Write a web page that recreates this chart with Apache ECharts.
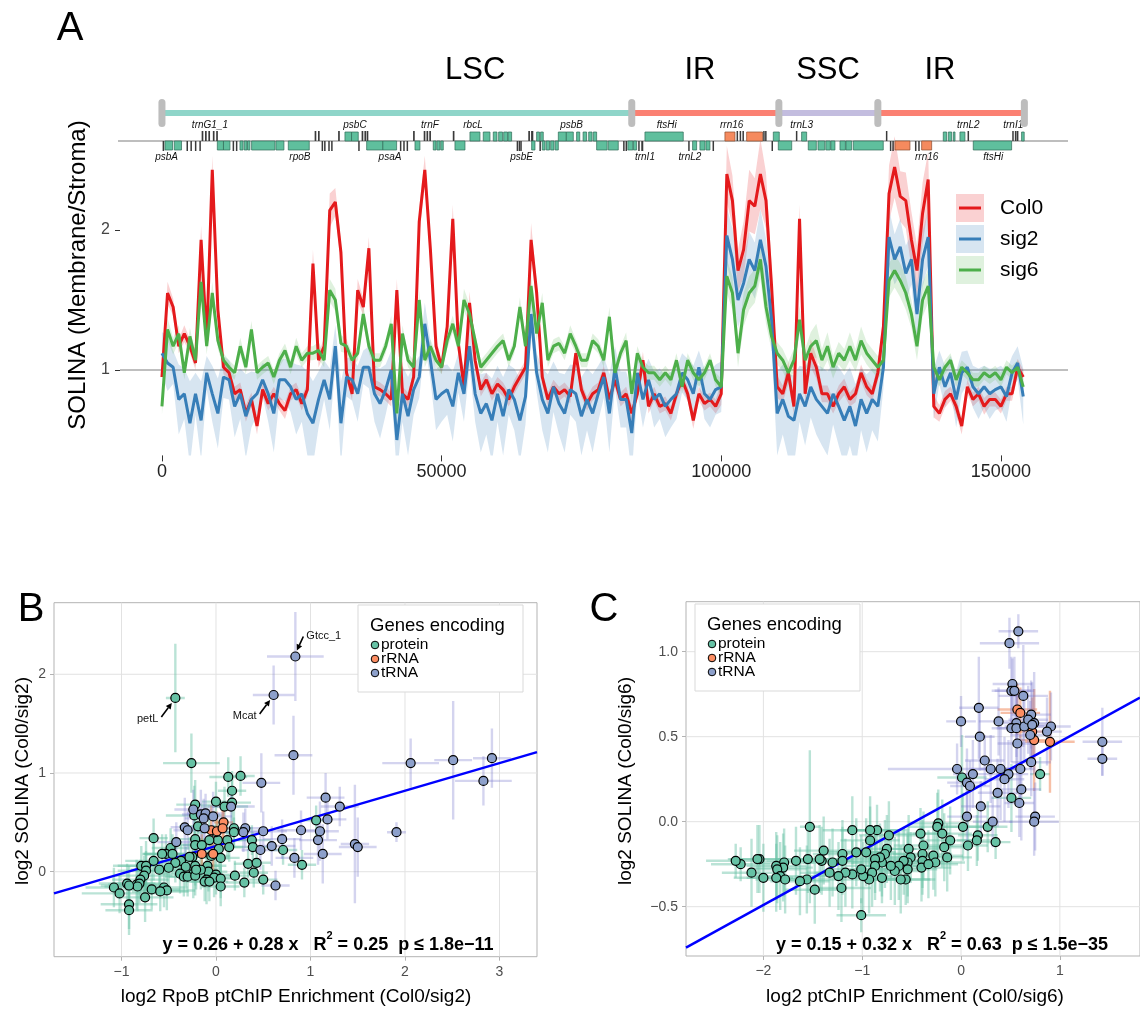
<!DOCTYPE html>
<html><head><meta charset="utf-8">
<script src="https://cdn.jsdelivr.net/npm/echarts@6/dist/echarts.min.js"></script>
<style>html,body{margin:0;padding:0;background:#fff}#c{width:1140px;height:1011px}</style>
</head><body><div id="c"></div>
<script>
// ---------------- DATA: panel A (SOLINA profile, 1 kb bins) ----------------
const binSizeBp = 1000;
const col0 = [
0.95,1.55,1.45,1.17,1.26,1.17,1.05,1.93,1.21,2.43,
1.43,1.02,0.98,0.83,0.86,0.69,0.79,0.60,0.86,0.76,
0.83,0.76,0.71,0.83,0.86,0.76,0.86,1.76,1.07,1.17,
2.14,2.20,1.84,0.98,0.83,1.57,1.45,1.87,0.88,0.86,
0.83,0.79,1.57,0.83,0.79,0.95,2.06,2.43,1.86,1.17,
1.02,1.31,2.08,1.19,0.88,1.48,1.07,0.86,0.93,0.83,
0.90,0.86,0.79,0.88,0.95,1.02,1.93,1.55,0.95,0.79,
0.88,0.83,0.86,0.81,1.12,0.86,0.76,0.83,0.86,0.98,
0.79,0.93,0.79,0.83,0.69,0.83,1.07,0.74,0.83,0.74,
0.76,0.69,0.83,0.93,0.83,0.64,0.83,0.76,0.79,0.74,
0.83,2.40,2.21,1.71,1.86,2.21,2.17,2.40,2.21,1.60,
0.88,0.83,0.98,0.74,2.08,0.83,1.12,1.02,0.83,0.83,
0.74,0.83,0.88,0.79,0.83,0.98,0.88,0.83,0.98,1.31,
2.26,2.45,2.24,2.21,1.93,1.71,2.12,2.36,0.74,0.69,
0.79,0.83,0.74,0.60,0.88,0.79,0.83,0.74,0.79,0.79,
0.74,0.83,0.83,1.02,0.95];
const sig2 = [
1.12,1.05,1.02,0.79,0.83,0.62,0.83,0.64,0.98,0.83,
0.69,0.95,0.93,0.74,0.83,0.67,0.79,0.83,0.93,0.83,
0.69,0.93,0.93,0.88,0.79,0.83,0.69,0.62,0.79,0.93,
0.79,1.17,0.62,0.95,0.93,0.83,1.02,1.02,0.83,0.76,
0.86,1.00,0.50,0.83,0.67,0.86,0.95,1.33,1.07,0.79,
0.83,0.86,0.74,0.98,0.83,1.17,0.83,0.69,0.76,0.64,
0.83,0.67,0.86,0.79,0.64,0.81,1.40,0.98,0.79,0.69,
0.88,0.76,0.69,0.86,0.83,0.67,0.79,0.69,0.83,0.95,
0.69,1.02,0.79,0.79,0.55,0.98,0.79,0.93,0.79,0.83,
0.74,0.79,0.83,0.98,0.93,0.83,1.02,0.83,0.79,0.86,
0.88,1.96,1.79,1.50,1.62,1.79,1.71,1.93,1.74,1.36,
0.69,0.79,0.67,0.64,0.83,0.74,0.88,0.79,0.74,0.69,
0.83,0.74,0.64,0.74,0.60,0.79,0.69,0.79,0.74,1.02,
1.95,1.79,1.88,1.69,1.79,1.40,1.79,1.95,0.83,1.02,
0.88,0.98,0.79,0.98,1.02,0.88,0.83,0.88,0.83,0.86,
0.88,0.81,0.98,1.05,0.81];
const sig6 = [
0.74,1.29,1.17,1.26,0.98,1.24,1.07,1.63,1.17,1.55,
1.21,1.07,1.02,0.98,1.17,1.02,1.29,0.98,1.02,1.05,
0.95,1.07,1.14,1.02,1.17,1.07,1.12,1.12,1.14,1.07,
1.57,1.50,1.19,1.17,1.07,1.12,1.40,1.17,1.07,1.07,
1.17,1.33,0.69,1.26,1.07,1.02,1.50,1.07,1.17,1.07,
1.02,1.21,1.33,1.17,1.50,1.40,1.21,1.02,1.07,1.12,
1.17,1.21,1.07,1.17,1.45,1.17,1.60,1.26,1.48,1.07,
1.17,1.19,1.12,1.26,1.17,1.07,1.07,1.21,1.17,1.07,
1.38,0.98,1.12,1.21,0.83,1.12,1.02,0.98,0.98,0.93,
0.98,0.93,1.07,0.88,1.07,0.98,0.93,0.98,1.07,0.93,
0.88,1.67,1.55,1.12,1.43,1.55,1.60,1.79,1.45,1.24,
1.12,1.07,0.98,1.07,1.36,1.07,1.17,1.21,1.07,1.17,
1.02,1.12,1.07,1.17,1.07,1.21,1.12,1.07,1.02,1.07,
1.64,1.71,1.64,1.55,1.40,1.17,1.50,1.60,1.02,0.93,
1.02,1.07,0.93,1.02,0.98,0.93,0.93,0.98,0.95,0.98,
0.93,1.02,0.98,1.02,0.88];
const col0Sd = [
0.05,0.08,0.06,0.05,0.06,0.05,0.05,0.10,0.06,0.10,
0.06,0.05,0.04,0.05,0.05,0.06,0.05,0.06,0.05,0.05,
0.05,0.05,0.06,0.05,0.05,0.05,0.05,0.10,0.05,0.06,
0.12,0.10,0.08,0.05,0.05,0.08,0.06,0.08,0.05,0.05,
0.05,0.05,0.08,0.05,0.05,0.05,0.10,0.10,0.10,0.06,
0.05,0.06,0.10,0.06,0.05,0.08,0.05,0.05,0.05,0.05,
0.05,0.05,0.05,0.05,0.05,0.05,0.12,0.08,0.05,0.05,
0.05,0.05,0.05,0.05,0.06,0.05,0.05,0.05,0.05,0.05,
0.05,0.05,0.05,0.05,0.06,0.05,0.06,0.05,0.05,0.05,
0.05,0.05,0.05,0.05,0.05,0.06,0.05,0.05,0.05,0.05,
0.08,0.20,0.18,0.15,0.20,0.22,0.20,0.25,0.20,0.15,
0.08,0.06,0.08,0.06,0.10,0.06,0.10,0.08,0.06,0.06,
0.05,0.06,0.06,0.05,0.06,0.06,0.06,0.05,0.06,0.10,
0.20,0.22,0.18,0.20,0.20,0.18,0.22,0.20,0.08,0.06,
0.06,0.05,0.06,0.06,0.05,0.05,0.05,0.06,0.05,0.05,
0.05,0.05,0.05,0.06,0.05];
const sig2Sd = [
0.15,0.20,0.12,0.25,0.18,0.30,0.15,0.28,0.12,0.20,
0.25,0.15,0.14,0.22,0.18,0.30,0.20,0.15,0.12,0.20,
0.28,0.14,0.15,0.18,0.25,0.20,0.30,0.30,0.20,0.14,
0.22,0.15,0.30,0.14,0.15,0.20,0.12,0.15,0.20,0.25,
0.18,0.14,0.25,0.20,0.28,0.18,0.15,0.15,0.14,0.22,
0.20,0.18,0.25,0.14,0.20,0.15,0.20,0.28,0.22,0.30,
0.20,0.28,0.18,0.22,0.30,0.20,0.15,0.14,0.22,0.28,
0.18,0.22,0.28,0.18,0.20,0.28,0.22,0.28,0.20,0.15,
0.28,0.15,0.20,0.20,0.30,0.14,0.20,0.15,0.20,0.18,
0.22,0.20,0.18,0.14,0.15,0.20,0.12,0.18,0.20,0.18,
0.18,0.20,0.22,0.20,0.18,0.20,0.20,0.22,0.20,0.20,
0.30,0.25,0.30,0.32,0.20,0.28,0.22,0.25,0.28,0.30,
0.22,0.28,0.32,0.28,0.30,0.22,0.28,0.22,0.25,0.15,
0.20,0.18,0.20,0.20,0.18,0.20,0.20,0.20,0.18,0.12,
0.15,0.12,0.20,0.15,0.12,0.15,0.18,0.15,0.18,0.15,
0.15,0.18,0.12,0.12,0.20];
const sig6Sd = [
0.06,0.08,0.06,0.06,0.05,0.06,0.05,0.10,0.06,0.08,
0.06,0.05,0.05,0.05,0.06,0.05,0.06,0.05,0.05,0.05,
0.05,0.05,0.05,0.05,0.06,0.05,0.05,0.05,0.06,0.05,
0.08,0.08,0.06,0.05,0.05,0.05,0.07,0.05,0.05,0.05,
0.05,0.06,0.08,0.06,0.05,0.05,0.07,0.05,0.05,0.05,
0.05,0.06,0.06,0.05,0.08,0.07,0.05,0.05,0.05,0.05,
0.05,0.05,0.05,0.05,0.07,0.05,0.08,0.06,0.07,0.05,
0.05,0.05,0.05,0.06,0.05,0.05,0.05,0.05,0.05,0.05,
0.07,0.05,0.05,0.06,0.06,0.05,0.05,0.05,0.05,0.05,
0.05,0.05,0.05,0.05,0.05,0.05,0.05,0.05,0.05,0.05,
0.06,0.12,0.12,0.10,0.12,0.12,0.12,0.14,0.12,0.10,
0.08,0.08,0.08,0.08,0.10,0.08,0.10,0.12,0.08,0.10,
0.08,0.08,0.08,0.10,0.08,0.10,0.08,0.08,0.08,0.08,
0.12,0.12,0.12,0.12,0.10,0.10,0.12,0.12,0.06,0.05,
0.05,0.05,0.05,0.05,0.05,0.05,0.05,0.05,0.05,0.05,
0.05,0.05,0.05,0.05,0.05];
const seriesNames = ['Col0','sig2','sig6'];
const aTicksX = [0, 50000, 100000, 150000];
const aTicksY = [1, 2];

// chloroplast genome map
const regionNames = ['LSC','IR','SSC','IR'];
const regionStart = [0, 84000, 110300, 128000];
const regionEnd = [84000, 110300, 128000, 154200];
const regionLabelPos = [56000, 96200, 119100, 139100];
// genes: [start, end, type]  p = protein, r = rRNA, t = tRNA
const genesPlus = [
[7100,7400,'t'],[7700,8000,'t'],[8300,8600,'t'],[9100,9400,'t'],[9700,10000,'t'],
[27300,27600,'t'],[27900,28200,'t'],[31500,31800,'t'],
[32720,33900,'p'],[33900,35100,'p'],
[35700,36000,'t'],[36200,36500,'t'],[36600,36900,'t'],
[44900,45200,'t'],[46800,47100,'t'],[47300,47600,'t'],[47800,48100,'t'],[52000,52300,'t'],
[55070,56860,'p'],[57450,58650,'p'],[59240,59900,'p'],[60200,60900,'p'],[61100,61800,'p'],[61900,62520,'p'],
[65500,65800,'t'],[66000,66400,'t'],[66990,67500,'p'],[67700,68180,'p'],
[70870,72300,'p'],[72300,73550,'p'],[74140,74700,'p'],[75300,75930,'p'],[76300,76900,'p'],[77120,77720,'p'],
[86360,93210,'p'],
[100660,102450,'r'],[102750,103000,'t'],[103300,103550,'t'],[103800,104050,'t'],
[104540,107400,'r'],[107520,107750,'t'],[107850,108100,'t'],
[109310,110380,'p'],[113360,113600,'t'],[114370,115270,'p'],[129450,129700,'t'],
[139700,140300,'p'],[140600,141200,'p'],[141500,141800,'p'],[142680,143570,'p'],[144050,144300,'t'],
[152030,152300,'t'],[152500,152800,'t'],[152900,153100,'t'],[153700,154170,'p']];
const genesMinus = [
[120,400,'t'],[540,1900,'p'],[2200,3500,'p'],
[4400,4650,'t'],[5100,5350,'t'],[5900,6150,'t'],[6700,6950,'t'],
[9900,11000,'p'],[11000,12160,'p'],[12640,12900,'t'],[13230,13480,'t'],
[13950,14500,'p'],[14700,15200,'p'],[15300,15730,'p'],
[16030,20200,'p'],[20380,21810,'p'],[22590,26340,'p'],
[28560,28800,'t'],[29000,29250,'t'],[29740,30000,'t'],[30250,30520,'t'],[35100,35350,'t'],
[36600,39500,'p'],[39500,41960,'p'],
[42560,42800,'t'],[43150,43400,'t'],[43750,44000,'t'],[45240,46130,'p'],
[48510,49000,'p'],[49150,49700,'p'],[49850,50300,'p'],[52390,54180,'p'],
[63420,63700,'t'],[63800,64050,'t'],[64100,64310,'t'],[66100,66700,'p'],[67500,67750,'t'],
[68000,68500,'p'],[68700,69300,'p'],[69500,70100,'p'],[70300,70870,'p'],
[77720,79600,'p'],[79800,81590,'p'],[82480,82700,'t'],[82900,83150,'t'],[83300,84200,'p'],[84300,84870,'p'],
[85170,85400,'t'],[85700,86060,'t'],[94100,94350,'t'],
[94880,95600,'p'],[96190,97090,'p'],[97270,97980,'p'],[98460,98700,'t'],[109000,109250,'t'],
[110200,112600,'p'],[115560,117000,'p'],[117300,118500,'p'],[118700,119500,'p'],[119600,120330,'p'],
[121230,122200,'p'],[122300,123320,'p'],[123610,128970,'p'],
[130170,130400,'t'],[130600,130850,'t'],[131060,133740,'r'],
[134640,134900,'t'],[135230,135480,'t'],[135830,137620,'r'],[145060,151920,'p']];
const labelsPlus = [['trnG1_1',8580],['psbC',34510],['trnF',47920],['rbcL',55610],['psbB',73250],
['ftsHi',90240],['rrn16',101860],['trnL3',114380],['trnL2',144170],['trnI1',152210]];
const labelsMinus = [['psbA',840],['rpoB',24670],['psaA',40770],['psbE',64310],['trnI1',86360],
['trnL2',94410],['rrn16',136730],['ftsHi',148640]];

// ---------------- DATA: panel B ([x, y, xErr, yErr]) ----------------
const bProtein = [
[-0.43,1.76,0.10,0.55],[-0.26,1.10,0.30,0.30],[0.13,0.96,0.20,0.20],[0.26,0.97,0.15,0.20],[0.17,0.82,0.15,0.20],
[0.00,0.71,0.15,0.20],[0.09,0.66,0.25,0.20],[0.17,0.70,0.20,0.25],[-0.22,0.68,0.20,0.25],[-0.23,0.57,0.30,0.30],
[-0.19,0.46,0.20,0.20],[0.19,0.44,0.20,0.20],[0.19,0.40,0.15,0.15],[0.12,0.32,0.20,0.20],[0.02,0.32,0.15,0.20],
[-0.07,0.32,0.20,0.20],[-0.22,0.33,0.25,0.25],[-0.22,0.27,0.20,0.20],[-0.15,0.27,0.20,0.20],[-0.66,0.34,0.15,0.20],
[0.38,0.32,0.20,0.15],[0.39,0.25,0.20,0.15],[0.71,0.22,0.15,0.15],[0.14,0.25,0.15,0.15],[0.03,0.23,0.15,0.20],
[-0.48,0.24,0.20,0.20],[-0.53,0.18,0.25,0.20],[-0.46,0.18,0.30,0.20],[0.05,0.14,0.20,0.20],[-0.05,0.16,0.20,0.20],
[-0.25,0.15,0.25,0.20],[-0.66,0.11,0.30,0.20],[-0.37,0.11,0.20,0.20],[-0.43,0.09,0.20,0.20],[0.34,0.08,0.15,0.15],
[0.43,0.09,0.15,0.15],[0.91,0.07,0.15,0.15],[-0.79,0.06,0.30,0.20],[-0.74,0.06,0.30,0.25],[-0.22,0.06,0.25,0.20],
[-0.09,0.06,0.20,0.20],[-0.32,0.05,0.20,0.20],[-0.50,0.04,0.25,0.20],[-0.60,0.02,0.30,0.20],[-0.74,0.01,0.30,0.20],
[-0.08,0.00,0.20,0.20],[0.40,-0.01,0.15,0.15],[-0.38,-0.02,0.20,0.20],[-0.24,-0.02,0.20,0.25],[0.00,-0.03,0.20,0.20],
[0.20,-0.04,0.15,0.15],[-0.76,-0.04,0.30,0.20],[-0.34,-0.05,0.20,0.20],[-0.30,-0.05,0.20,0.20],[-0.02,-0.06,0.20,0.20],
[-0.22,-0.04,0.20,0.20],[-0.10,-0.08,0.20,0.25],[-0.80,-0.08,0.30,0.20],[0.05,-0.07,0.20,0.20],[0.50,-0.08,0.15,0.15],
[0.30,-0.11,0.20,0.15],[-0.12,-0.10,0.20,0.20],[-0.07,-0.10,0.20,0.20],[-1.08,-0.16,0.30,0.20],[-0.94,-0.12,0.30,0.20],
[-0.84,-0.13,0.30,0.25],[-0.81,-0.12,0.25,0.20],[-0.68,-0.18,0.30,0.20],[-0.83,-0.15,0.35,0.25],[-0.55,-0.16,0.25,0.20],
[-0.52,-0.19,0.30,0.20],[-0.59,-0.20,0.30,0.20],[-1.02,-0.22,0.40,0.20],[0.05,-0.15,0.20,0.20],[-0.92,-0.14,0.30,0.20],
[-0.75,-0.26,0.30,0.25],[-0.92,-0.33,0.30,0.25],[-0.92,-0.39,0.25,0.25],[1.06,0.52,0.15,0.15],[0.00,0.40,0.20,0.20],
[-0.28,0.15,0.20,0.20],[-0.57,0.18,0.20,0.20],[-0.16,0.02,0.20,0.20],[-0.21,0.02,0.20,0.20]];
const bRRNA = [[-0.05,0.42,0.10,0.25],[0.01,0.41,0.10,0.20],[0.08,0.50,0.10,0.20],[0.07,0.44,0.10,0.20],[-0.15,0.18,0.10,0.20],[-0.03,0.18,0.10,0.20]];
const bTRNA = [
[0.84,2.18,0.30,0.45],[0.61,1.79,0.22,0.30],[0.82,1.18,0.20,0.40],[2.06,1.10,0.30,0.25],[2.51,1.13,0.20,0.60],
[2.92,1.15,0.20,0.30],[2.83,0.92,0.30,0.25],[0.48,0.90,0.20,0.30],[1.16,0.75,0.20,0.25],[1.31,0.66,0.20,0.20],
[1.18,0.53,0.20,0.20],[0.90,0.42,0.25,0.20],[1.10,0.41,0.20,0.30],[1.91,0.40,0.10,0.10],[1.08,0.32,0.20,0.25],
[0.70,0.33,0.20,0.20],[0.59,0.26,0.25,0.20],[1.47,0.28,0.15,0.60],[1.50,0.25,0.20,0.30],[1.13,0.18,0.20,0.30],
[0.83,0.14,0.20,0.20],[0.63,-0.14,0.15,0.15],[0.50,0.41,0.25,0.20],[0.31,0.44,0.20,0.20],[0.29,0.40,0.25,0.20],
[-0.33,0.45,0.15,0.30],[-0.30,0.42,0.15,0.20],[-0.24,0.63,0.20,0.20],[-0.16,0.58,0.20,0.25],[-0.11,0.59,0.20,0.20],
[-0.03,0.56,0.20,0.25],[-0.12,0.44,0.20,0.20],[-0.13,0.54,0.20,0.20],[0.16,0.66,0.25,0.20],[-0.42,0.30,0.20,0.20],
[0.47,0.22,0.20,0.20]];
const bFit = [0.26, 0.28];          // intercept, slope
const bStats = ['0.26','0.28','0.25','1.8e\u221211'];
const annNames = ['petL','Mcat','Gtcc_1'];
const annX = [-0.43, 0.61, 0.84];
const annY = [1.76, 1.79, 2.18];
const bTicksX = [-1,0,1,2,3];
const bTicksY = [0,1,2];

// ---------------- DATA: panel C ----------------
const cProtein = [
[0.80,0.28,0.10,0.10],[0.01,0.26,0.25,0.25],[0.51,0.14,0.20,0.20],[0.02,-0.03,0.30,0.20],[-0.23,-0.01,0.30,0.20],
[-0.24,-0.03,0.30,0.20],[0.27,-0.03,0.20,0.15],[-0.19,-0.07,0.30,0.20],[0.17,-0.08,0.20,0.15],[0.07,-0.14,0.20,0.15],
[0.16,-0.11,0.20,0.15],[0.35,-0.12,0.15,0.10],[-0.11,-0.11,0.25,0.20],[-0.17,-0.15,0.25,0.20],[-0.14,-0.21,0.25,0.20],
[-0.28,-0.20,0.30,0.20],[-0.26,-0.24,0.30,0.20],[-0.41,-0.07,0.30,0.15],[-0.38,-0.14,0.30,0.20],[-0.39,-0.19,0.30,0.20],
[-0.39,-0.23,0.30,0.20],[-0.40,-0.27,0.30,0.20],[-0.53,-0.16,0.30,0.20],[-0.51,-0.21,0.30,0.15],[-0.54,-0.24,0.30,0.20],
[-0.54,-0.28,0.30,0.20],[-0.56,-0.34,0.30,0.15],[-0.61,-0.34,0.30,0.20],[-0.58,-0.23,0.30,0.20],[-0.63,-0.26,0.30,0.20],
[-0.67,-0.29,0.30,0.20],[-0.71,-0.26,0.30,0.20],[-0.73,-0.08,0.30,0.20],[-0.75,-0.16,0.30,0.20],[-0.77,-0.19,0.30,0.20],
[-0.80,-0.24,0.30,0.20],[-0.82,-0.21,0.30,0.20],[-0.80,-0.33,0.30,0.15],[-0.85,-0.05,0.30,0.15],[-0.92,-0.05,0.30,0.20],
[-0.92,-0.11,0.30,0.20],[-0.96,-0.18,0.30,0.20],[-0.87,-0.22,0.30,0.20],[-0.87,-0.26,0.30,0.20],[-0.90,-0.30,0.30,0.20],
[-0.93,-0.34,0.30,0.20],[-0.99,-0.32,0.30,0.20],[-1.01,-0.28,0.30,0.20],[-1.01,-0.55,0.25,0.10],[-1.06,-0.18,0.30,0.20],
[-1.10,-0.05,0.30,0.20],[-1.10,-0.31,0.30,0.20],[-1.17,-0.30,0.30,0.20],[-1.20,-0.19,0.30,0.20],[-1.20,-0.23,0.30,0.20],
[-1.24,-0.32,0.30,0.20],[-1.21,-0.39,0.30,0.20],[-1.30,-0.24,0.30,0.20],[-1.33,-0.30,0.30,0.20],[-1.39,-0.17,0.30,0.20],
[-1.41,-0.23,0.30,0.20],[-1.43,-0.22,0.30,0.20],[-1.53,-0.03,0.10,0.45],[-1.55,-0.22,0.30,0.20],[-1.56,-0.34,0.30,0.20],
[-1.63,-0.35,0.30,0.20],[-1.48,-0.40,0.30,0.20],[-1.67,-0.23,0.30,0.20],[-1.79,-0.24,0.30,0.20],[-1.80,-0.27,0.30,0.20],
[-1.87,-0.26,0.30,0.20],[-1.86,-0.28,0.30,0.20],[-1.83,-0.32,0.30,0.20],[-1.78,-0.34,0.30,0.20],[-1.87,-0.33,0.30,0.20],
[-2.00,-0.33,0.30,0.20],[-2.04,-0.22,0.30,0.20],[-2.06,-0.22,0.30,0.20],[-2.12,-0.30,0.30,0.20],[-2.23,-0.25,0.30,0.10],
[-2.28,-0.23,0.30,0.10],[-0.33,-0.25,0.30,0.20]];
const cRRNA = [[0.57,0.66,0.20,0.15],[0.60,0.64,0.20,0.15],[0.72,0.53,0.20,0.20],[0.74,0.48,0.20,0.30],[0.90,0.47,0.25,0.30]];
const cTRNA = [
[0.58,1.12,0.20,0.10],[0.49,1.05,0.30,0.15],[0.52,0.81,0.20,0.15],[0.51,0.77,0.20,0.20],[0.54,0.77,0.20,0.20],
[0.63,0.74,0.25,0.30],[0.18,0.67,0.20,0.30],[0.00,0.59,0.15,0.15],[0.38,0.59,0.20,0.20],[0.56,0.58,0.20,0.20],
[0.51,0.55,0.20,0.20],[0.56,0.55,0.20,0.25],[0.64,0.56,0.20,0.20],[0.71,0.63,0.20,0.20],[0.68,0.60,0.20,0.20],
[0.74,0.58,0.20,0.30],[0.72,0.57,0.20,0.25],[0.91,0.56,0.20,0.20],[0.87,0.53,0.15,0.20],[0.70,0.51,0.20,0.20],
[0.19,0.50,0.15,0.20],[0.57,0.46,0.20,0.30],[1.43,0.47,0.20,0.20],[1.43,0.37,0.15,0.10],[0.71,0.35,0.20,0.20],
[0.24,0.36,0.20,0.15],[-0.04,0.31,0.70,0.15],[0.12,0.28,0.20,0.20],[0.30,0.31,0.20,0.20],[0.40,0.31,0.20,0.30],
[0.48,0.28,0.20,0.20],[0.44,0.25,0.20,0.25],[0.60,0.31,0.15,0.20],[0.06,0.23,0.20,0.20],[0.09,0.21,0.20,0.15],
[0.37,0.17,0.20,0.20],[0.61,0.19,0.20,0.30],[0.59,0.11,0.15,0.20],[0.20,0.09,0.20,0.15],[0.06,0.03,0.20,0.20],
[0.32,0.00,0.20,0.15],[0.75,0.03,0.20,0.20],[0.74,0.00,0.25,0.20]];
const cFit = [0.15, 0.32];
const cStats = ['0.15','0.32','0.63','1.5e\u221235'];
const cTicksX = [-2,-1,0,1];
const cTicksY = [-0.5,0,0.5,1];
const legendTypes = ['protein','rRNA','tRNA'];

// ---------------- LAYOUT / STYLE ----------------
const FONT = '"Liberation Sans", Arial, Helvetica, sans-serif';
const LINE_COLORS = ['#e41a1c','#377eb8','#4daf4a'];
const BAND_COLORS = ['rgba(228,26,28,0.2)','rgba(55,126,184,0.2)','rgba(77,175,74,0.18)'];
const TYPE_FILL = ['#66c2a5','#fc8d62','#8da0cb'];
const TYPE_ERR = ['rgba(102,194,165,0.45)','rgba(240,130,80,0.5)','rgba(125,125,205,0.33)'];
const REGION_COLORS = ['#8fd5c9','#fb8072','#c3bddf','#fb8072'];
const A_X = [-7500, 162000], A_Y = [0.39, 2.9];
const B_X = [-1.714, 3.397], B_Y = [-0.861, 2.725];
const C_X = [-2.783, 1.811], C_Y = [-0.79, 1.294];

const chart = echarts.init(document.getElementById('c'), null, {width:1140, height:1011});

function bp(i){ return i * binSizeBp; }
const profiles = [col0, sig2, sig6];
const sds = [col0Sd, sig2Sd, sig6Sd];
const series = [];

// ribbons (mean +/- spread) drawn as polygons through the axes
profiles.forEach((vals, k) => {
  const sd = sds[k];
  series.push({type:'custom', xAxisIndex:0, yAxisIndex:0, silent:true, z:2, clip:true, data:[[0, vals[0]]],
    renderItem(params, api){
      const up = vals.map((v,i)=>api.coord([bp(i), v + (sd[i]||0)]));
      const lo = vals.map((v,i)=>api.coord([bp(i), v - (sd[i]||0)])).reverse();
      return {type:'polygon', shape:{points: up.concat(lo)}, style:{fill:BAND_COLORS[k]}};
    }});
});
profiles.forEach((vals, k) => {
  series.push({type:'line', name:seriesNames[k], xAxisIndex:0, yAxisIndex:0, symbol:'none', z:3,
    lineStyle:{color:LINE_COLORS[k], width:3}, data: vals.map((v,i)=>[bp(i), v]),
    markLine: k===0 ? {silent:true, symbol:'none', z:1, label:{show:false}, lineStyle:{color:'#aaaaaa', width:1.5, type:'solid'}, data:[{yAxis:1}]} : undefined});
});

// genome track (grid 1)
series.push({type:'custom', xAxisIndex:1, yAxisIndex:1, silent:true, z:6, data:[[0,0]],
  renderItem(params, api){
    const cs = params.coordSys; const y = cs.y + 46;
    return {type:'line', shape:{x1:cs.x-2, y1:y, x2:cs.x+cs.width, y2:y}, style:{stroke:'#a8a8a8', lineWidth:1.3}};
  }});
function geneSeries(list, strand){
  return {type:'custom', xAxisIndex:1, yAxisIndex:1, silent:true, z:7, data:list.map(g=>[g[0],0]),
    renderItem(params, api){
      const g = list[params.dataIndex]; const cs = params.coordSys; const base = cs.y + 46;
      let x0 = api.coord([g[0],0])[0], x1 = api.coord([g[1],0])[0];
      const isT = g[2]==='t';
      if (x1 - x0 < 1.5) { const m = (x0+x1)/2; x0 = m-0.75; x1 = m+0.75; }
      const h = isT ? 10 : 9;
      const y = strand > 0 ? base - h : base;
      let style;
      if (isT) style = {fill:'#3a3a3a'};
      else if (g[2]==='r') style = {fill:'#f58a5e', stroke:'#8c4a2c', lineWidth:0.7};
      else style = {fill:'#5fbf9d', stroke:'#2f6b58', lineWidth:0.7};
      return {type:'rect', shape:{x:x0, y:y, width:x1-x0, height:h}, style};
    }};
}
series.push(geneSeries(genesPlus, 1));
series.push(geneSeries(genesMinus, -1));
function geneLabelSeries(list, strand){
  return {type:'custom', xAxisIndex:1, yAxisIndex:1, silent:true, z:8, data:list.map(g=>[g[1],0]),
    renderItem(params, api){
      const g = list[params.dataIndex]; const cs = params.coordSys;
      const x = api.coord([g[1],0])[0];
      return {type:'text', x:x, y: cs.y + 46 + (strand>0 ? -16 : 16),
        style:{text:g[0], fontFamily:FONT, fontSize:10, fontStyle:'italic', fill:'#111', align:'center', verticalAlign:'middle'}};
    }};
}
series.push(geneLabelSeries(labelsPlus, 1));
series.push(geneLabelSeries(labelsMinus, -1));
// region bars, caps and names
series.push({type:'custom', xAxisIndex:1, yAxisIndex:1, silent:true, z:7, data:regionStart.map(s=>[s,0]),
  renderItem(params, api){
    const i = params.dataIndex; const cs = params.coordSys;
    const x0 = api.coord([regionStart[i],0])[0], x1 = api.coord([regionEnd[i],0])[0];
    const lx = api.coord([regionLabelPos[i],0])[0];
    return {type:'group', children:[
      {type:'rect', shape:{x:x0, y:cs.y+15, width:x1-x0, height:6}, style:{fill:REGION_COLORS[i]}},
      {type:'text', x:lx, y:cs.y-25, style:{text:regionNames[i], fontFamily:FONT, fontSize:31, fill:'#000', align:'center', verticalAlign:'middle'}}
    ]};
  }});
const regionBounds = regionStart.concat([regionEnd[regionEnd.length-1]]);
series.push({type:'custom', xAxisIndex:1, yAxisIndex:1, silent:true, z:9, data:regionBounds.map(s=>[s,0]),
  renderItem(params, api){
    const cs = params.coordSys; const x = api.coord([regionBounds[params.dataIndex],0])[0];
    return {type:'rect', shape:{x:x-3.5, y:cs.y+4, width:7, height:28, r:3.5}, style:{fill:'#bdbdbd'}};
  }});

// scatter panels
function gridLines(gi, xt, yt){
  const d = xt.map(v=>[v,0,0]).concat(yt.map(v=>[0,v,1]));
  return {type:'custom', xAxisIndex:gi, yAxisIndex:gi, silent:true, z:0, data:d.map(e=>[e[0],e[1]]),
    renderItem(params, api){
      const cs = params.coordSys; const e = d[params.dataIndex];
      if (e[2]===0) { const x = api.coord([e[0], 0])[0];
        return {type:'line', shape:{x1:x, y1:cs.y, x2:x, y2:cs.y+cs.height}, style:{stroke:'#e2e2e2', lineWidth:1}}; }
      const y = api.coord([0, e[1]])[1];
      return {type:'line', shape:{x1:cs.x, y1:y, x2:cs.x+cs.width, y2:y}, style:{stroke:'#e2e2e2', lineWidth:1}};
    }};
}
function errSeries(gi, pts, color){
  return {type:'custom', xAxisIndex:gi, yAxisIndex:gi, silent:true, z:1, clip:true, data:pts.map(p=>[p[0],p[1]]),
    renderItem(params, api){
      const p = pts[params.dataIndex];
      const a = api.coord([p[0]-p[2], p[1]]), b = api.coord([p[0]+p[2], p[1]]);
      const c = api.coord([p[0], p[1]-p[3]]), e = api.coord([p[0], p[1]+p[3]]);
      return {type:'group', children:[
        {type:'line', shape:{x1:a[0], y1:a[1], x2:b[0], y2:b[1]}, style:{stroke:color, lineWidth:2.4}},
        {type:'line', shape:{x1:c[0], y1:c[1], x2:e[0], y2:e[1]}, style:{stroke:color, lineWidth:2.4}}]};
    }};
}
function pointSeries(gi, pts, color){
  return {type:'scatter', xAxisIndex:gi, yAxisIndex:gi, z:4, symbol:'circle', symbolSize:9,
    itemStyle:{color:color, borderColor:'#000', borderWidth:1.2, opacity:1}, data:pts.map(p=>[p[0],p[1]])};
}
function fitSeries(gi, fit, xr){
  return {type:'line', xAxisIndex:gi, yAxisIndex:gi, z:3, symbol:'none', silent:true,
    lineStyle:{color:'#0000ff', width:2.5}, data:[[xr[0], fit[0]+fit[1]*xr[0]],[xr[1], fit[0]+fit[1]*xr[1]]]};
}
[[2, bProtein, bRRNA, bTRNA, bTicksX, bTicksY, bFit, B_X],[3, cProtein, cRRNA, cTRNA, cTicksX, cTicksY, cFit, C_X]].forEach(cfg => {
  const gi = cfg[0];
  series.push(gridLines(gi, cfg[4], cfg[5]));
  [cfg[1], cfg[2], cfg[3]].forEach((pts, t) => series.push(errSeries(gi, pts, TYPE_ERR[t])));
  series.push(fitSeries(gi, cfg[6], cfg[7]));
  [cfg[1], cfg[2], cfg[3]].forEach((pts, t) => series.push(pointSeries(gi, pts, TYPE_FILL[t])));
});
// annotations in panel B
series.push({type:'custom', xAxisIndex:2, yAxisIndex:2, silent:true, z:6, data:annX.map((x,i)=>[x, annY[i]]),
  renderItem(params, api){
    const i = params.dataIndex; const p = api.coord([annX[i], annY[i]]);
    const right = annNames[i] === 'Gtcc_1';
    const s = right ? [p[0]+8, p[1]-20] : [p[0]-14, p[1]+19];
    const e = right ? [p[0]+1.5, p[1]-6] : [p[0]-3.5, p[1]+5];
    const dx = e[0]-s[0], dy = e[1]-s[1], L = Math.hypot(dx,dy), ux = dx/L, uy = dy/L;
    const hl = 6, hw = 3;
    const bx = e[0]-ux*hl, by = e[1]-uy*hl;
    return {type:'group', children:[
      {type:'line', shape:{x1:s[0], y1:s[1], x2:bx, y2:by}, style:{stroke:'#000', lineWidth:1.6}},
      {type:'polygon', shape:{points:[[e[0],e[1]],[bx-uy*hw, by+ux*hw],[bx+uy*hw, by-ux*hw]]}, style:{fill:'#000'}},
      {type:'text', x: right ? p[0]+11 : p[0]-17, y: right ? p[1]-21 : p[1]+21,
        style:{text:annNames[i], fontFamily:FONT, fontSize:11, fill:'#111', align: right ? 'left':'right', verticalAlign:'middle'}}
    ]};
  }});

function fmtMinus(v, dec){ const s = Math.abs(v).toFixed(dec); return v < 0 ? '\u2212' + s : s; }
const axisLblStyle = {fontFamily:FONT, fontSize:14, color:'#4d4d4d'};
const noLine = {show:false, onZero:false};

const option = {
  animation:false,
  textStyle:{fontFamily:FONT},
  grid:[
    {left:120, top:370-(A_Y[1]-1)*140, width:948, height:(A_Y[1]-A_Y[0])*140},
    {left:120, top:95, width:948, height:70},
    {left:54, top:602.7, width:483, height:354, show:true, borderColor:'#b3b3b3', borderWidth:1},
    {left:686, top:601.7, width:458, height:354.3, show:true, borderColor:'#b3b3b3', borderWidth:1}
  ],
  xAxis:[
    {gridIndex:0, type:'value', min:A_X[0], max:A_X[1], axisLine:noLine, splitLine:{show:false},
      axisTick:{show:true, customValues:aTicksX, length:6, lineStyle:{color:'#333'}},
      axisLabel:{customValues:aTicksX, fontFamily:FONT, fontSize:18, color:'#222', margin:8, formatter:v=>String(v)}},
    {gridIndex:1, type:'value', min:A_X[0], max:A_X[1], show:false},
    {gridIndex:2, type:'value', min:B_X[0], max:B_X[1], axisLine:noLine, splitLine:{show:false},
      axisTick:{show:true, customValues:bTicksX, length:4, lineStyle:{color:'#b3b3b3'}},
      axisLabel:Object.assign({customValues:bTicksX, margin:8, formatter:v=>fmtMinus(v,0)}, axisLblStyle)},
    {gridIndex:3, type:'value', min:C_X[0], max:C_X[1], axisLine:noLine, splitLine:{show:false},
      axisTick:{show:true, customValues:cTicksX, length:4, lineStyle:{color:'#b3b3b3'}},
      axisLabel:Object.assign({customValues:cTicksX, margin:8, formatter:v=>fmtMinus(v,0)}, axisLblStyle)}
  ],
  yAxis:[
    {gridIndex:0, type:'value', min:A_Y[0], max:A_Y[1], axisLine:noLine, splitLine:{show:false},
      axisTick:{show:true, customValues:aTicksY, length:5, lineStyle:{color:'#333'}},
      axisLabel:{customValues:aTicksY, fontFamily:FONT, fontSize:16, color:'#444', margin:10, formatter:v=>String(v)}},
    {gridIndex:1, type:'value', min:0, max:1, show:false},
    {gridIndex:2, type:'value', min:B_Y[0], max:B_Y[1], axisLine:noLine, splitLine:{show:false},
      axisTick:{show:true, customValues:bTicksY, length:4, lineStyle:{color:'#b3b3b3'}},
      axisLabel:Object.assign({customValues:bTicksY, margin:8, formatter:v=>fmtMinus(v,0)}, axisLblStyle)},
    {gridIndex:3, type:'value', min:C_Y[0], max:C_Y[1], axisLine:noLine, splitLine:{show:false},
      axisTick:{show:true, customValues:cTicksY, length:4, lineStyle:{color:'#b3b3b3'}},
      axisLabel:Object.assign({customValues:cTicksY, margin:8, formatter:v=>fmtMinus(v,1)}, axisLblStyle)}
  ],
  series: series,
  graphic: buildGraphics()
};

function statText(st){
  return '{a|y = ' + st[0] + ' + ' + st[1] + ' x   R}{s|2}{a| = ' + st[2] + '  p \u2264 ' + st[3] + '}';
}
function typeLegend(x0, y0){
  const els = [{type:'rect', z:100, shape:{x:x0, y:y0, width:165, height:87}, style:{fill:'#fff', stroke:'#d9d9d9', lineWidth:1}},
    {type:'text', z:101, x:x0+12, y:y0+21, style:{text:'Genes encoding', fontFamily:FONT, fontSize:18.5, fill:'#000', verticalAlign:'middle'}}];
  legendTypes.forEach((t,i) => {
    els.push({type:'circle', z:101, shape:{cx:x0+17, cy:y0+40+i*14, r:3.8}, style:{fill:TYPE_FILL[i], stroke:'#000', lineWidth:1}});
    els.push({type:'text', z:101, x:x0+23, y:y0+40+i*14, style:{text:t, fontFamily:FONT, fontSize:15.5, fill:'#000', verticalAlign:'middle'}});
  });
  return els;
}
function buildGraphics(){
  const g = [];
  const big = {fontFamily:FONT, fontSize:40, fill:'#000', align:'center', verticalAlign:'middle'};
  g.push({type:'text', z:100, x:70, y:29, style:Object.assign({text:'A'}, big)});
  g.push({type:'text', z:100, x:31, y:610, style:Object.assign({text:'B'}, big)});
  g.push({type:'text', z:100, x:604, y:610, style:Object.assign({text:'C'}, big)});
  const ttl = {fontFamily:FONT, fill:'#000', align:'center', verticalAlign:'middle'};
  g.push({type:'text', z:100, x:78, y:275, rotation:Math.PI/2, style:Object.assign({text:'SOLINA (Membrane/Stroma)', fontSize:24}, ttl)});
  g.push({type:'text', z:100, x:23, y:781, rotation:Math.PI/2, style:Object.assign({text:'log2 SOLINA (Col0/sig2)', fontSize:19}, ttl)});
  g.push({type:'text', z:100, x:626, y:781, rotation:Math.PI/2, style:Object.assign({text:'log2 SOLINA (Col0/sig6)', fontSize:19}, ttl)});
  g.push({type:'text', z:100, x:296, y:997, style:Object.assign({text:'log2 RpoB ptChIP Enrichment (Col0/sig2)', fontSize:19}, ttl)});
  g.push({type:'text', z:100, x:915, y:997, style:Object.assign({text:'log2 ptChIP Enrichment (Col0/sig6)', fontSize:19}, ttl)});
  const rich = {a:{fontFamily:FONT, fontSize:18, fontWeight:'bold', fill:'#000', lineHeight:24, verticalAlign:'bottom'},
                s:{fontFamily:FONT, fontSize:11, fontWeight:'bold', fill:'#000', lineHeight:24, verticalAlign:'top'}};
  g.push({type:'text', z:100, x:328, y:942, style:{text:statText(bStats), rich, align:'center', verticalAlign:'middle'}});
  g.push({type:'text', z:100, x:942, y:942, style:{text:statText(cStats), rich, align:'center', verticalAlign:'middle'}});
  // panel A legend
  seriesNames.forEach((n,i) => {
    g.push({type:'rect', z:100, shape:{x:956, y:194+i*31, width:28, height:28}, style:{fill:BAND_COLORS[i]}});
    g.push({type:'line', z:101, shape:{x1:959, y1:208+i*31, x2:981, y2:208+i*31}, style:{stroke:LINE_COLORS[i], lineWidth:3}});
    g.push({type:'text', z:101, x:1000, y:208+i*31, style:{text:n, fontFamily:FONT, fontSize:21, fill:'#000', verticalAlign:'middle'}});
  });
  return g.concat(typeLegend(358, 605), typeLegend(695, 604));
}
chart.setOption(option);
</script></body></html>
